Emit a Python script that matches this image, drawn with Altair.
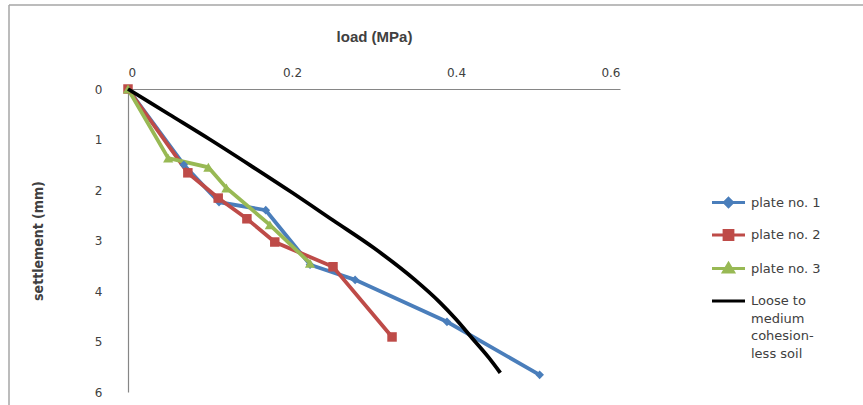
import altair as alt
import pandas as pd

# ---------------- data ----------------
series_names = ["plate no. 1", "plate no. 2", "plate no. 3",
                "Loose to medium cohesion-less soil"]
series_colors = ["#4A7EBB", "#BE4B48", "#98B954", "#000000"]
soil_label_lines = ["Loose to", "medium", "cohesion-", "less soil"]

plate1_load = [0.0, 0.068, 0.111, 0.168, 0.222, 0.277, 0.389, 0.502]
plate1_settle = [0.0, 1.50, 2.24, 2.40, 3.48, 3.78, 4.61, 5.66]

plate2_load = [0.0, 0.073, 0.110, 0.145, 0.179, 0.250, 0.322]
plate2_settle = [0.0, 1.66, 2.16, 2.57, 3.03, 3.52, 4.91]

plate3_load = [0.0, 0.049, 0.098, 0.120, 0.173, 0.222]
plate3_settle = [0.0, 1.37, 1.55, 1.96, 2.69, 3.45]

soil_load = [0.0, 0.05, 0.10, 0.15, 0.20, 0.25, 0.30, 0.35, 0.38, 0.40, 0.42, 0.44, 0.454]
soil_settle = [0.0, 0.50, 1.00, 1.52, 2.05, 2.60, 3.15, 3.78, 4.22, 4.56, 4.94, 5.32, 5.62]

x_ticks = [0, 0.2, 0.4, 0.6]
y_ticks = [0, 1, 2, 3, 4, 5, 6]

# ---------------- tables ----------------
rows = []
for name, loads, settles in zip(series_names,
                                [plate1_load, plate2_load, plate3_load, soil_load],
                                [plate1_settle, plate2_settle, plate3_settle, soil_settle]):
    for i, (q, s) in enumerate(zip(loads, settles)):
        rows.append({"series": name, "load": q, "settlement": s, "order": i})
df = pd.DataFrame(rows)
plates_df = df[df["series"] != series_names[3]]
soil_df = df[df["series"] == series_names[3]]
legend_df = pd.DataFrame({"series": series_names})
frame_df = pd.DataFrame({"k": [0]})

LABEL_FONT = "DejaVu Sans"
TEXT_COLOR = "#404040"
AXIS_COLOR = "#868686"

x_scale = alt.Scale(domain=[0, 0.6], nice=False, zero=False)
y_scale = alt.Scale(domain=[0, 6], reverse=True, nice=False)
color_scale = alt.Scale(domain=series_names, range=series_colors)

x_enc = alt.X("load:Q", scale=x_scale,
              axis=alt.Axis(orient="top", title="load (MPa)", values=x_ticks,
                            format="~g", grid=False, ticks=False,
                            domainColor=AXIS_COLOR, domainWidth=1.2,
                            labelFont=LABEL_FONT, labelFontSize=12,
                            labelColor=TEXT_COLOR, labelPadding=10,
                            titleFont="Liberation Sans", titleFontSize=15,
                            titleFontWeight="bold", titleColor=TEXT_COLOR,
                            titlePadding=22))
y_enc = alt.Y("settlement:Q", scale=y_scale,
              axis=alt.Axis(title="settlement (mm)", values=y_ticks, format="d",
                            grid=False, ticks=False,
                            domainColor=AXIS_COLOR, domainWidth=1.2,
                            labelFont=LABEL_FONT, labelFontSize=12,
                            labelColor=TEXT_COLOR, labelPadding=26,
                            titleFont="Liberation Sans Narrow, DejaVu Sans Condensed",
                            titleFontSize=14, titleFontWeight="bold",
                            titleColor=TEXT_COLOR, titlePadding=49))

plate_lines = alt.Chart(plates_df).mark_line(strokeWidth=3.8).encode(
    x=x_enc, y=y_enc,
    color=alt.Color("series:N", scale=color_scale, legend=None),
    detail="series:N",
    order="order:Q",
)

plate_points = alt.Chart(plates_df).mark_point(filled=True, opacity=1).encode(
    x="load:Q", y="settlement:Q",
    color=alt.Color("series:N", scale=color_scale, legend=None),
    shape=alt.Shape("series:N",
                    scale=alt.Scale(domain=series_names[:3],
                                    range=["diamond", "square", "triangle-up"]),
                    legend=None),
    size=alt.Size("series:N",
                  scale=alt.Scale(domain=series_names[:3], range=[75, 105, 95]),
                  legend=None),
)

soil_line = alt.Chart(soil_df).mark_line(strokeWidth=3.8, interpolate="monotone").encode(
    x="load:Q", y="settlement:Q",
    color=alt.Color("series:N", scale=color_scale, legend=None),
    order="order:Q",
)

legend_paths = [
    "M-1,0H1M0,-0.24L0.24,0L0,0.24L-0.24,0Z",
    "M-1,0H1M-0.26,-0.26H0.26V0.26H-0.26Z",
    "M-1,0H1M0,-0.28L0.29,0.21H-0.29Z",
    "M-1,0H1",
]
label_expr = ("datum.value == '" + series_names[3] + "' ? ["
              + ",".join("'" + s + "'" for s in soil_label_lines) + "] : datum.label")


def legend_def():
    return alt.Legend(orient="none", legendX=582, legendY=95, title=None,
                      symbolSize=1089, symbolStrokeWidth=3.2, symbolOpacity=1,
                      labelFont=LABEL_FONT, labelFontSize=13,
                      labelColor=TEXT_COLOR, labelExpr=label_expr,
                      labelOffset=4, rowPadding=3.5, padding=0)


legend_layer = alt.Chart(legend_df).mark_point(filled=True, opacity=0).encode(
    x=alt.value(0), y=alt.value(0),
    color=alt.Color("series:N", scale=color_scale, legend=legend_def()),
    stroke=alt.Stroke("series:N", scale=color_scale, legend=legend_def()),
    shape=alt.Shape("series:N", scale=alt.Scale(domain=series_names, range=legend_paths),
                    legend=legend_def()),
)

frame_top = alt.Chart(frame_df).mark_rule(color="#a6a6a6", strokeWidth=1.5, clip=False).encode(
    x=alt.value(-119), x2=alt.value(740), y=alt.value(-84))
frame_left = alt.Chart(frame_df).mark_rule(color="#a6a6a6", strokeWidth=1.5, clip=False).encode(
    x=alt.value(-119), y=alt.value(-84), y2=alt.value(320))

chart = alt.layer(
    frame_top, frame_left, plate_lines, plate_points, soil_line, legend_layer
).resolve_scale(
    color="independent", shape="independent", stroke="independent", size="independent"
).properties(
    width=492, height=303,
    autosize=alt.AutoSizeParams(type="none"),
    padding={"left": 128, "top": 89, "right": 243, "bottom": 13},
    background="white",
).configure(
    view={"stroke": "transparent"},
    style={"guide-label": {"lineHeight": 17.5}},
)

chart.save("out.html", embed_options={"renderer": "svg", "actions": False})
